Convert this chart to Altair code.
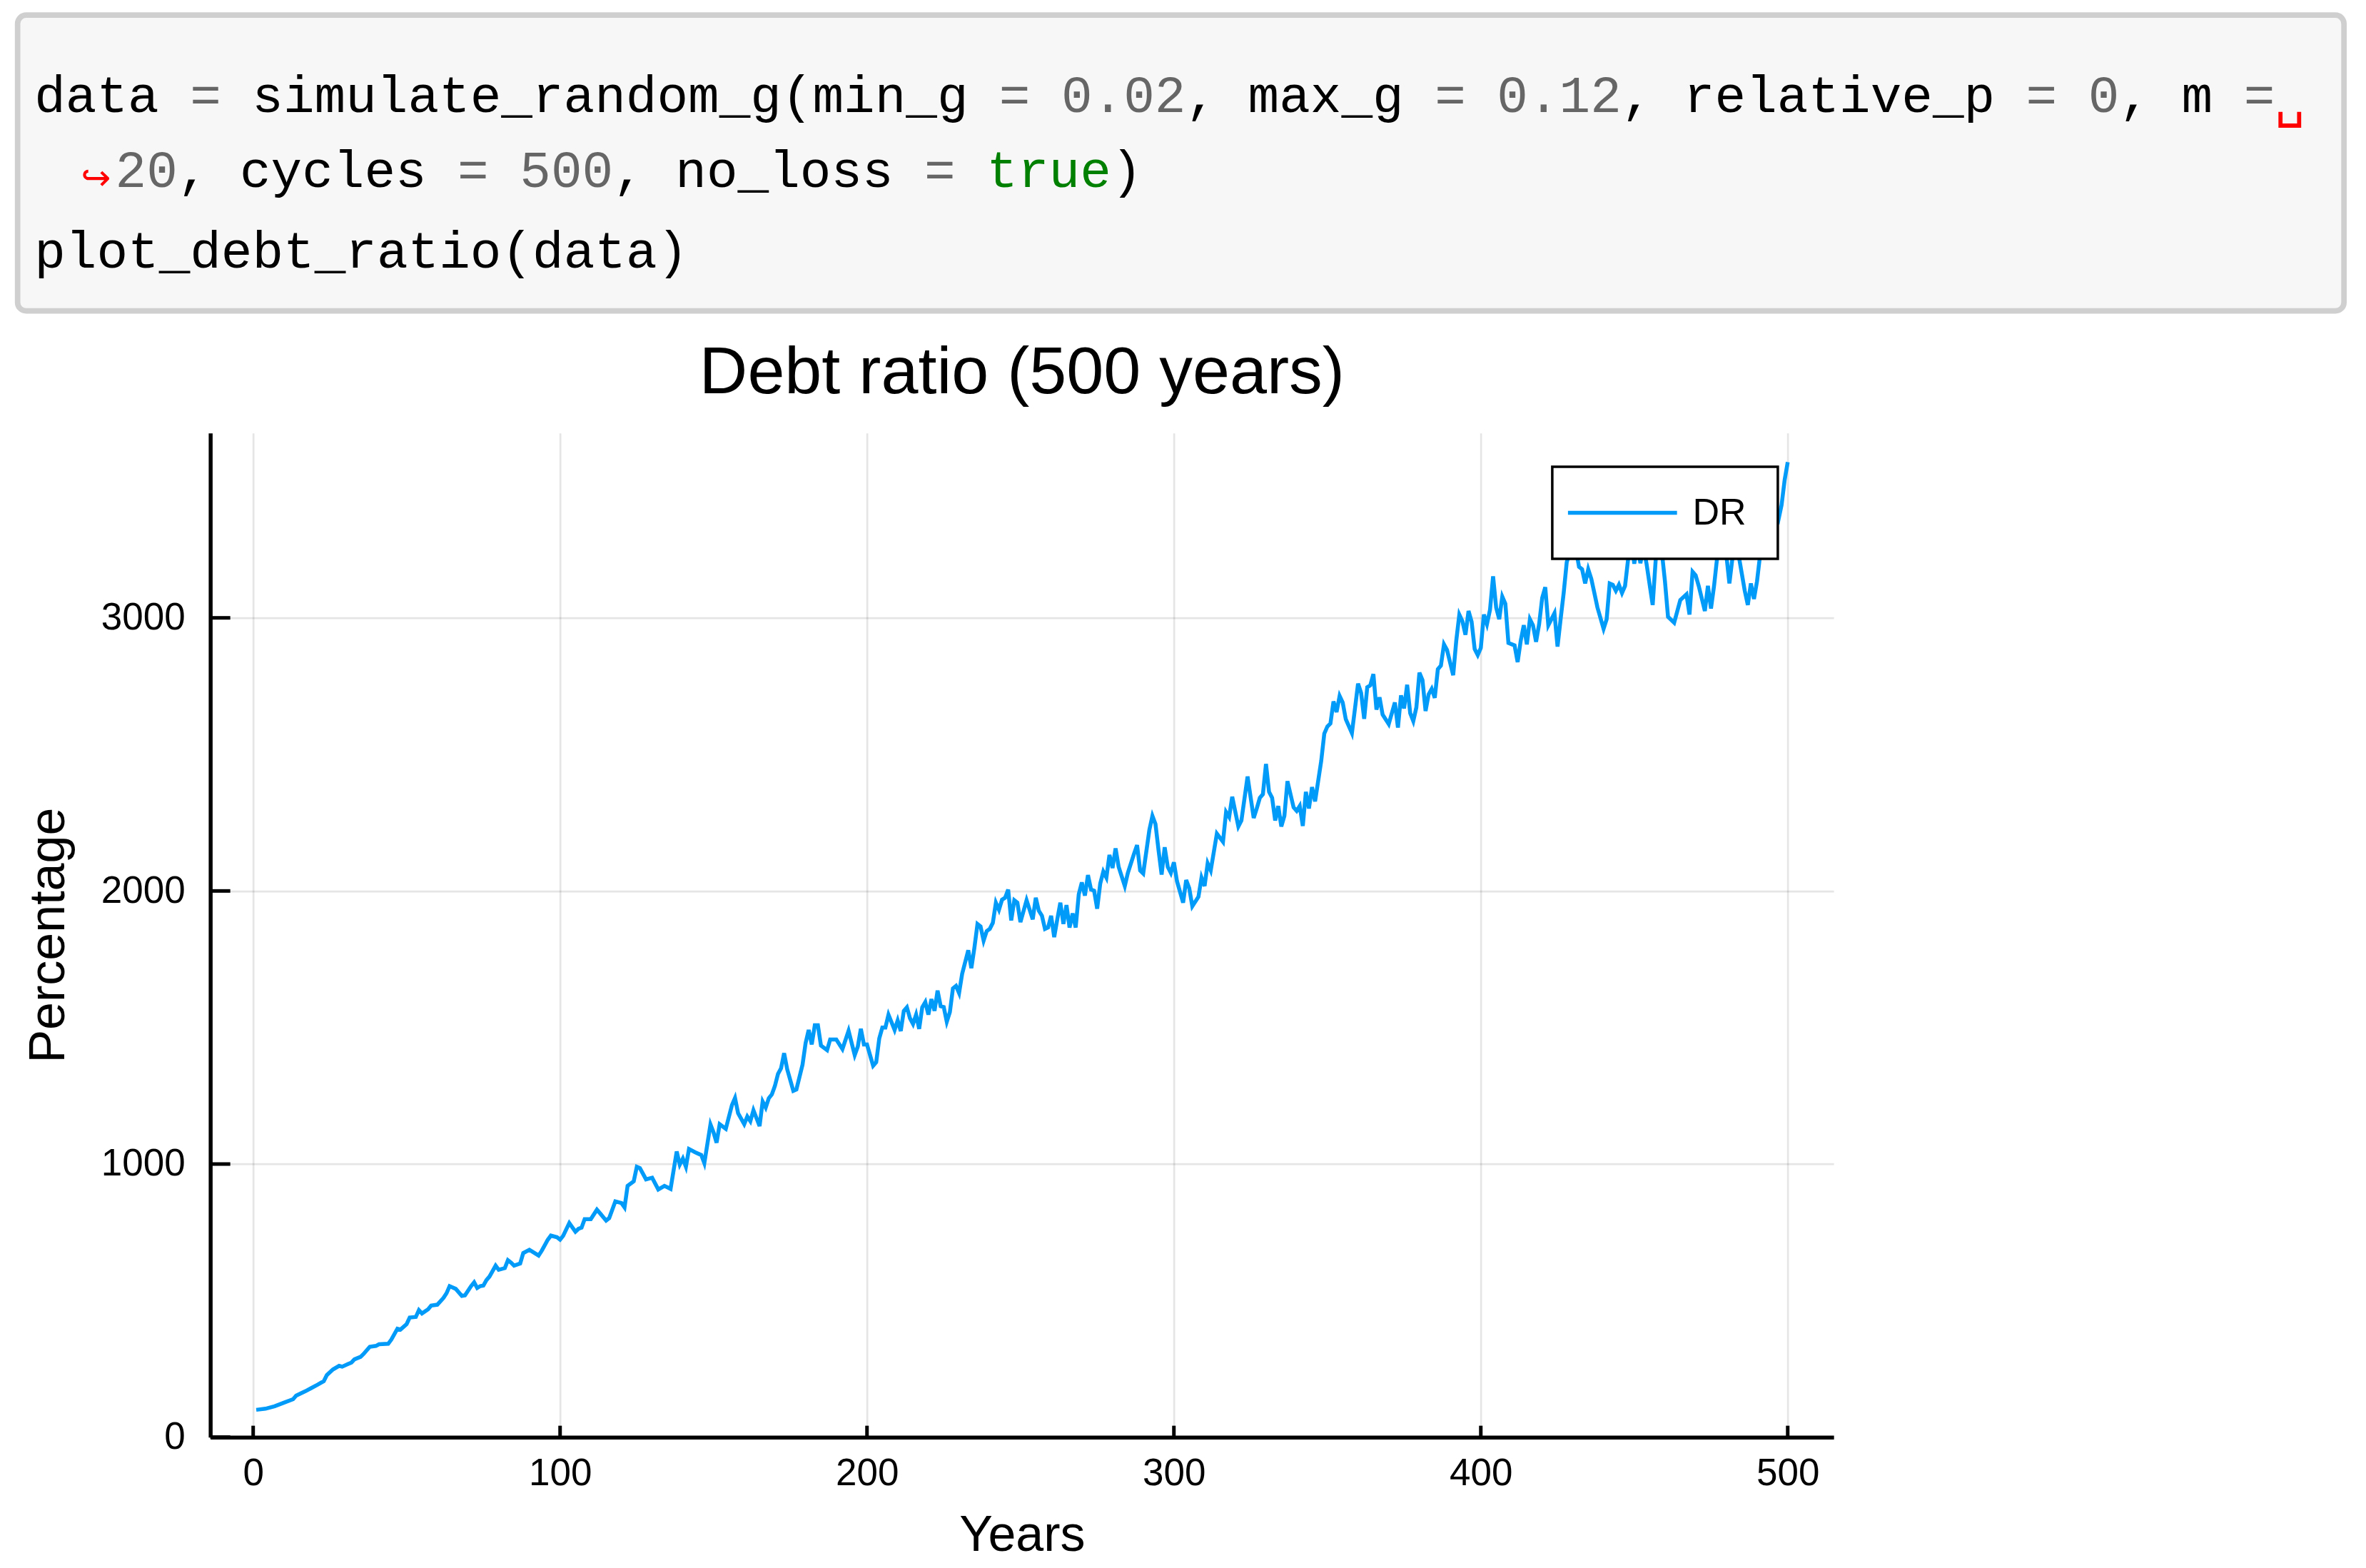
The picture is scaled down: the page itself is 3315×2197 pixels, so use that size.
import altair as alt
import pandas as pd

# ---------------- data ----------------
dr_000 = [(1,100),(4,104),(7,113),(10,126),(13,139),(14,152),(17,168),(19,180),(21,192),(23,205),(24,227),(26,248),(28,261),(29,258),(31,268),(32,273),(33,285),(35,294),(36,305),(38,331),(40,334),(41,340),(44,342),(45,357),(47,397),(48,394),(50,414),(51,438),(53,440),(54,465),(55,453),(57,468),(58,482),(60,485),(62,510),(63,527),(64,553),(66,543),(68,517),(69,519),(71,553),(72,567),(73,546),(74,553),(75,555),(76,575),(77,588),(79,628),(80,613),(82,619),(83,648),(84,639),(85,628),(87,636),(88,674),(90,686),(93,665),(94,682),(96,723),(97,738),(99,732)]
dr_100 = [(100,723),(101,737),(103,784),(105,752),(106,763),(107,767),(108,798),(110,798),(112,833),(113,820),(115,793),(116,802),(118,863),(120,857),(121,841),(122,920),(124,937),(125,990),(126,985),(128,944),(130,950),(132,907),(134,920),(136,909),(138,1046),(139,998),(140,1020),(141,990),(142,1055),(144,1043),(146,1033),(147,1003),(149,1145),(150,1116),(151,1078),(152,1146),(154,1129),(156,1216),(157,1242),(158,1186),(160,1146),(161,1174),(162,1157),(163,1197),(165,1139),(166,1229),(167,1207),(168,1241),(169,1255),(170,1286),(171,1330),(172,1351),(173,1406),(174,1347),(176,1268),(177,1273),(179,1364),(180,1443),(181,1491),(182,1438),(183,1508),(184,1508),(185,1434),(187,1417),(188,1456),(190,1456),(192,1421),(194,1488),(196,1399),(197,1430),(198,1495),(199,1438)]
dr_200 = [(200,1438),(202,1360),(203,1373),(204,1460),(205,1500),(206,1500),(207,1547),(209,1491),(210,1526),(211,1487),(212,1561),(213,1574),(214,1534),(215,1513),(216,1547),(217,1495),(218,1574),(219,1593),(220,1547),(221,1604),(222,1561),(223,1635),(224,1578),(225,1575),(226,1521),(227,1556),(228,1643),(229,1652),(230,1626),(231,1696),(233,1783),(234,1717),(235,1792),(236,1879),(237,1870),(238,1818),(239,1853),(240,1861),(241,1883),(242,1957),(243,1931),(244,1968),(245,1975),(246,2005),(247,1892),(248,1966),(249,1957),(250,1886),(252,1966),(254,1896),(255,1975),(256,1927),(257,1909),(258,1861),(259,1866),(260,1909),(261,1831),(262,1896),(263,1957),(264,1879),(265,1948),(266,1866),(267,1918),(268,1866),(269,1988),(270,2031),(271,1983),(272,2058),(273,2005),(274,2001),(275,1935),(276,2027),(277,2071),(278,2049),(279,2132),(280,2084),(281,2156),(282,2088),(284,2018),(285,2066),(287,2136),(288,2168),(289,2075),(290,2064),(292,2223),(293,2275),(294,2245),(295,2149),(296,2060),(297,2160),(298,2088),(299,2066)]
dr_300 = [(300,2105),(301,2036),(303,1957),(304,2040),(305,2010),(306,1944),(308,1979),(309,2049),(310,2018),(311,2101),(312,2075),(314,2210),(316,2180),(317,2289),(318,2271),(319,2345),(321,2236),(322,2258),(324,2419),(326,2267),(327,2302),(328,2341),(329,2354),(330,2465),(331,2363),(332,2341),(333,2258),(334,2311),(335,2236),(336,2275),(337,2402),(339,2306),(340,2293),(341,2311),(342,2238),(343,2363),(344,2302),(345,2380),(346,2328),(347,2402),(348,2476),(349,2576),(350,2602),(351,2613),(352,2694),(353,2655),(354,2714),(355,2690),(356,2629),(358,2578),(359,2668),(360,2759),(361,2725),(362,2630),(363,2746),(364,2753),(365,2794),(366,2664),(367,2709),(368,2646),(370,2611),(372,2690),(373,2598),(374,2716),(375,2668),(376,2755),(377,2651),(378,2622),(379,2672),(380,2799),(381,2772),(382,2659),(383,2720),(384,2740),(385,2707),(386,2812),(387,2825),(388,2903),(389,2882),(391,2790),(392,2916),(393,3012),(394,2988),(395,2938),(396,3025),(397,2986),(398,2886),(399,2864)]
dr_400 = [(400,2890),(401,3012),(402,2977),(403,3030),(404,3152),(405,3038),(406,2995),(407,3078),(408,3052),(409,2908),(411,2899),(412,2838),(413,2916),(414,2973),(415,2903),(416,2995),(417,2973),(418,2912),(419,2977),(420,3073),(421,3112),(422,2973),(424,3017),(425,2895),(426,2995),(427,3091),(428,3204),(429,3239),(430,3310),(431,3250),(432,3187),(433,3178),(434,3126),(435,3178),(436,3143),(437,3091),(438,3038),(440,2960),(441,2995),(442,3126),(443,3121),(444,3099),(445,3121),(446,3091),(447,3117),(448,3215),(449,3290),(450,3198),(451,3270),(452,3200),(453,3260),(454,3198),(456,3047),(457,3215),(458,3300),(459,3240),(460,3134),(461,3004),(463,2982),(465,3065),(467,3086),(468,3012),(469,3169),(470,3156),(471,3117),(473,3025),(474,3117),(475,3034),(476,3117),(477,3220),(478,3320),(479,3280),(480,3230),(481,3126),(482,3220),(483,3300),(484,3230),(486,3099),(487,3047),(488,3126),(489,3069),(490,3134),(491,3230),(492,3320),(493,3270),(494,3350),(495,3300),(496,3380),(497,3360),(498,3413),(499,3505),(500,3570)]

series_name = "DR"
x_ticks = [0, 100, 200, 300, 400, 500]
y_ticks = [0, 1000, 2000, 3000]

# code cell tokens: line number, character column, text, kind
tok_line = [1, 1, 1, 1, 1, 1, 1, 1, 1, 1, 1, 1, 1, 1, 1, 1,
            2, 2, 2, 2, 2, 2, 2, 2, 2, 2,
            3]
tok_col = [0, 5, 7, 31, 33, 37, 39, 45, 47, 51, 53, 64, 66, 67, 69, 71,
           2.6, 4.6, 6.6, 13.6, 15.6, 18.6, 20.6, 28.6, 30.6, 34.6,
           0]
tok_text = ["data", "=", "simulate_random_g(min_g", "=", "0.02", ",", "max_g", "=", "0.12", ",",
            "relative_p", "=", "0", ",", "m", "=",
            "20", ",", "cycles", "=", "500", ",", "no_loss", "=", "true", ")",
            "plot_debt_ratio(data)"]
tok_kind = ["name", "op", "name", "op", "num", "name", "name", "op", "num", "name",
            "name", "op", "num", "name", "name", "op",
            "num", "name", "name", "op", "num", "name", "name", "op", "const", "name",
            "name"]
wrap_space = {"line": [1], "col": [72], "text": ["\u2423"]}
wrap_arrow = {"line": [2], "col": [1.5], "text": ["\u21aa"]}

# ---------------- layout constants ----------------
W = 2274.5
H = 1407
CODE_H = 414.5

# ---------------- code cell ----------------
code_x = alt.Scale(domain=[0, 72], range=[-246.5, 2892.7], nice=False, zero=False)
code_y = alt.Scale(domain=[1, 2, 3], range=[135.7, 240.7, 354], nice=False, zero=False)

box = alt.Chart(alt.Data(values=[{"k": 1}])).mark_rect(
    fill="#f7f7f7", stroke="#cfcfcf", strokeWidth=7.7, cornerRadius=12
).encode(x=alt.value(-270), x2=alt.value(2989.5), y=alt.value(0), y2=alt.value(CODE_H))

tokens = pd.DataFrame({"line": tok_line, "col": tok_col, "text": tok_text, "kind": tok_kind})
code_text = alt.Chart(tokens).mark_text(
    align="left", baseline="alphabetic", font="Liberation Mono", fontSize=72.7
).encode(
    x=alt.X("col:Q", scale=code_x, axis=None),
    y=alt.Y("line:Q", scale=code_y, axis=None),
    text="text:N",
    color=alt.Color("kind:N",
                    scale=alt.Scale(domain=["name", "op", "num", "const"],
                                    range=["#000000", "#666666", "#666666", "#008000"]),
                    legend=None),
)
space_mark = alt.Chart(pd.DataFrame(wrap_space)).mark_text(
    align="left", baseline="alphabetic", font="DejaVu Sans Mono", fontSize=70, color="#ff0000", dy=6
).encode(x=alt.X("col:Q", scale=code_x, axis=None), y=alt.Y("line:Q", scale=code_y, axis=None), text="text:N")
arrow_mark = alt.Chart(pd.DataFrame(wrap_arrow)).mark_text(
    align="left", baseline="alphabetic", font="DejaVu Sans", fontSize=50, color="#ff0000", dy=4
).encode(x=alt.X("col:Q", scale=code_x, axis=None), y=alt.Y("line:Q", scale=code_y, axis=None), text="text:N")

code_chart = alt.layer(box, code_text, space_mark, arrow_mark).properties(width=W, height=CODE_H)

# ---------------- plot ----------------
pairs = dr_000 + dr_100 + dr_200 + dr_300 + dr_400
df = pd.DataFrame({"year": [p[0] for p in pairs], "value": [p[1] for p in pairs]})
df["series"] = series_name

xsc = alt.Scale(domain=[-13.97, 514.97], nice=False, zero=False)
ysc = alt.Scale(domain=[0, 3677], nice=False, zero=False)

axis_common = dict(
    ticks=False, tickSize=0, domainColor="black", domainWidth=5.5,
    grid=True, gridColor="black", gridOpacity=0.1, gridWidth=2.7,
    labelFont="Liberation Sans", labelFontSize=53, labelColor="black", labelFlush=False,
    titleFont="Liberation Sans", titleFontSize=70, titleFontWeight="normal", titleColor="black",
    titleBaseline="alphabetic", format="d",
)

line = alt.Chart(df).mark_line(strokeWidth=5.5).encode(
    x=alt.X("year:Q", scale=xsc,
            axis=alt.Axis(values=x_ticks, title="Years", labelPadding=25, titleY=159, **axis_common)),
    y=alt.Y("value:Q", scale=ysc,
            axis=alt.Axis(values=y_ticks, title="Percentage", labelPadding=35.5,
                          titleX=-205, titleY=H / 2, titleAngle=270, titleAlign="center",
                          **axis_common)),
    color=alt.Color("series:N", scale=alt.Scale(domain=[series_name], range=["#009af9"]),
                    legend=alt.Legend(title="\u00a0", titleOrient="right", titlePadding=22,
                                      titleFontSize=1,
                                      orient="none", legendX=1880.25, legendY=47.45,
                                      fillColor="white", strokeColor="black", padding=22,
                                      clipHeight=85, symbolType="stroke", symbolSize=26100,
                                      symbolStrokeWidth=5.5, symbolOffset=-12, labelOffset=18.5,
                                      labelFont="Liberation Sans", labelFontSize=52,
                                      labelColor="black")),
)

xtick_rules = alt.Chart(pd.DataFrame({"year": x_ticks})).mark_rule(color="black", strokeWidth=5).encode(
    x=alt.X("year:Q", scale=xsc), y=alt.value(H), y2=alt.value(H - 16))
ytick_rules = alt.Chart(pd.DataFrame({"value": y_ticks})).mark_rule(color="black", strokeWidth=5).encode(
    y=alt.Y("value:Q", scale=ysc), x=alt.value(0), x2=alt.value(28))

plot_chart = alt.layer(line, xtick_rules, ytick_rules).properties(
    width=W, height=H,
    title=alt.TitleParams("Debt ratio (500 years)", font="Liberation Sans", fontSize=93.5,
                          fontWeight="normal", color="black", anchor="middle", frame="group",
                          baseline="alphabetic", offset=-37.5),
)

chart = alt.vconcat(code_chart, plot_chart, spacing=170.5, bounds="flush").resolve_scale(
    color="independent"
).resolve_legend(color="independent").properties(
    padding={"left": 12.65, "top": 9.15, "right": 5, "bottom": 5}
).configure_view(strokeWidth=0).configure_legend(strokeWidth=3.5)

chart.save("out.html", embed_options={"renderer": "svg", "actions": False})
